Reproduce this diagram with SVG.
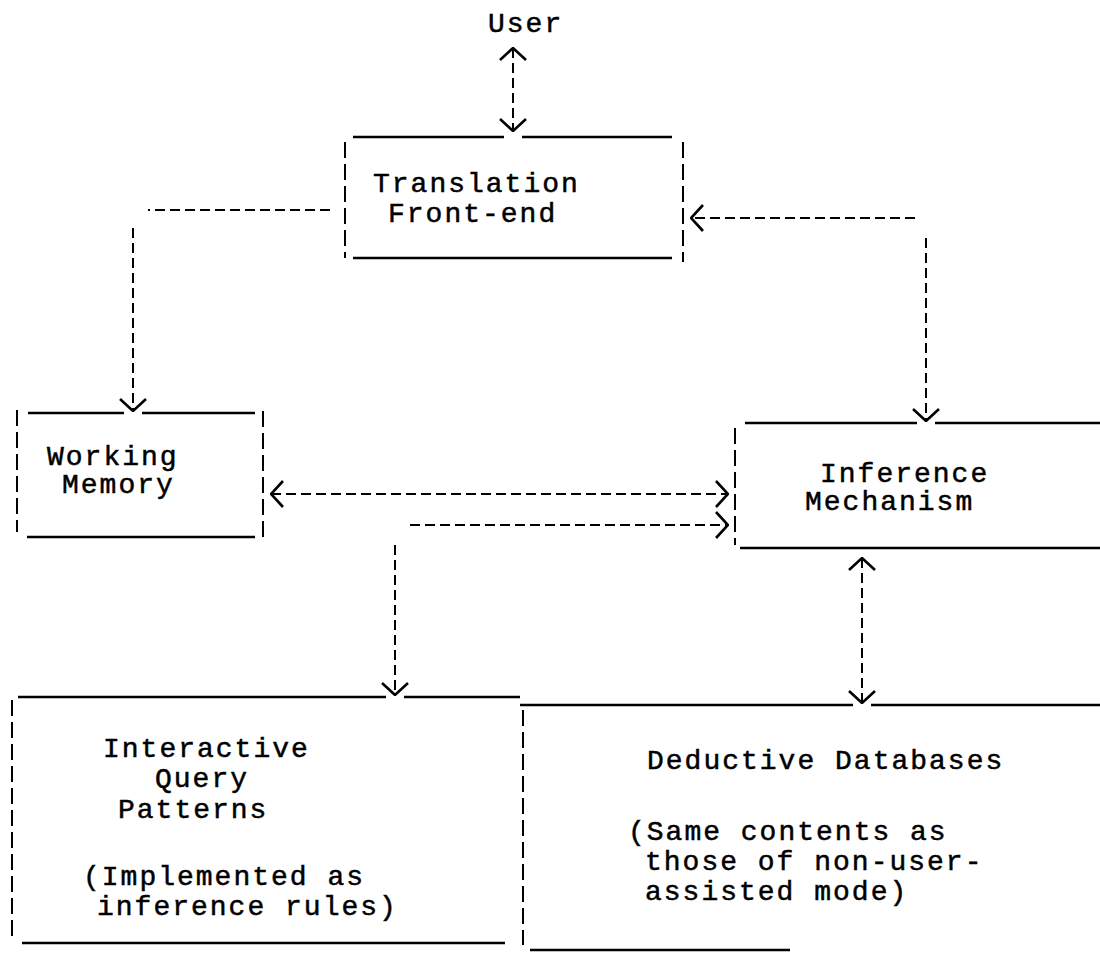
<svg xmlns="http://www.w3.org/2000/svg" width="1100" height="955" viewBox="0 0 1100 955">
  <style>
    .bg { fill: #ffffff; }
    .edge { stroke: #000; stroke-width: 2.4; fill: none; }
    .side { stroke: #000; stroke-width: 2; fill: none; stroke-dasharray: 16 6; }
    .link { stroke: #000; stroke-width: 2; fill: none; stroke-dasharray: 10 5; }
    .lbl { font-family: "Liberation Mono", "Courier New", monospace; font-size: 28px; letter-spacing: 2px; fill: #000; stroke: #000; stroke-width: 0.5; }
  </style>
  <defs>
    <marker id="head" viewBox="0 0 14 28" refX="13" refY="14" markerWidth="14" markerHeight="28" markerUnits="userSpaceOnUse" orient="auto-start-reverse">
      <path d="M1,1 L13,14 L1,27" fill="none" stroke="#000" stroke-width="2.6"/>
    </marker>
  </defs>

  <rect class="bg" x="0" y="0" width="1100" height="955"/>

  <g id="user">
    <text class="lbl" x="488" y="32">User</text>
  </g>

  <g id="translation-front-end">
    <path class="edge" d="M353,137 H504 M522,137 H672 M353,258 H672"/>
    <path class="side" d="M345,142 V258 M683,142 V262"/>
    <text class="lbl" x="373" y="192">Translation</text>
    <text class="lbl" x="388" y="222">Front-end</text>
  </g>

  <g id="working-memory">
    <path class="edge" d="M28,413 H124 M142,413 H255 M27,537 H255"/>
    <path class="side" d="M17,410 V532 M263,411 V540"/>
    <text class="lbl" x="47" y="465">Working</text>
    <text class="lbl" x="62" y="493">Memory</text>
  </g>

  <g id="inference-mechanism">
    <path class="edge" d="M745,423 H917 M935,423 H1100 M740,548 H1100"/>
    <path class="side" d="M735,428 V545"/>
    <text class="lbl" x="820" y="482">Inference</text>
    <text class="lbl" x="805" y="510">Mechanism</text>
  </g>

  <g id="interactive-query-patterns">
    <path class="edge" d="M18,697 H386 M404,697 H520 M22,943 H505"/>
    <path class="side" d="M12,700 V940"/>
    <text class="lbl" x="103" y="757">Interactive</text>
    <text class="lbl" x="155" y="787">Query</text>
    <text class="lbl" x="118" y="818">Patterns</text>
    <text class="lbl" x="83" y="885">(Implemented as</text>
    <text class="lbl" x="97" y="915">inference rules)</text>
  </g>

  <g id="deductive-databases">
    <path class="edge" d="M520,705 H853 M871,705 H1100 M530,950 H790"/>
    <path class="side" d="M523,710 V945"/>
    <text class="lbl" x="647" y="769">Deductive Databases</text>
    <text class="lbl" x="628" y="840">(Same contents as</text>
    <text class="lbl" x="645" y="870">those of non-user-</text>
    <text class="lbl" x="645" y="900">assisted mode)</text>
  </g>

  <g id="connectors">
    <!-- user <-> translation front-end -->
    <path class="link" d="M513,48 V131" marker-start="url(#head)" marker-end="url(#head)"/>
    <!-- translation front-end -> working memory -->
    <path class="link" d="M330,210 H148 M133,228 V411" marker-end="url(#head)"/>
    <!-- inference mechanism -> translation front-end -->
    <path class="link" d="M915,218 H691" marker-end="url(#head)"/>
    <!-- translation front-end -> inference mechanism -->
    <path class="link" d="M926,238 V421" marker-end="url(#head)"/>
    <!-- working memory <-> inference mechanism -->
    <path class="link" d="M271,494 H728" marker-start="url(#head)" marker-end="url(#head)"/>
    <!-- query patterns -> inference mechanism -->
    <path class="link" d="M410,525 H728" marker-end="url(#head)"/>
    <!-- inference mechanism -> query patterns -->
    <path class="link" d="M395,545 V695" marker-end="url(#head)"/>
    <!-- inference mechanism <-> deductive databases -->
    <path class="link" d="M862,558 V703" marker-start="url(#head)" marker-end="url(#head)"/>
  </g>
</svg>
